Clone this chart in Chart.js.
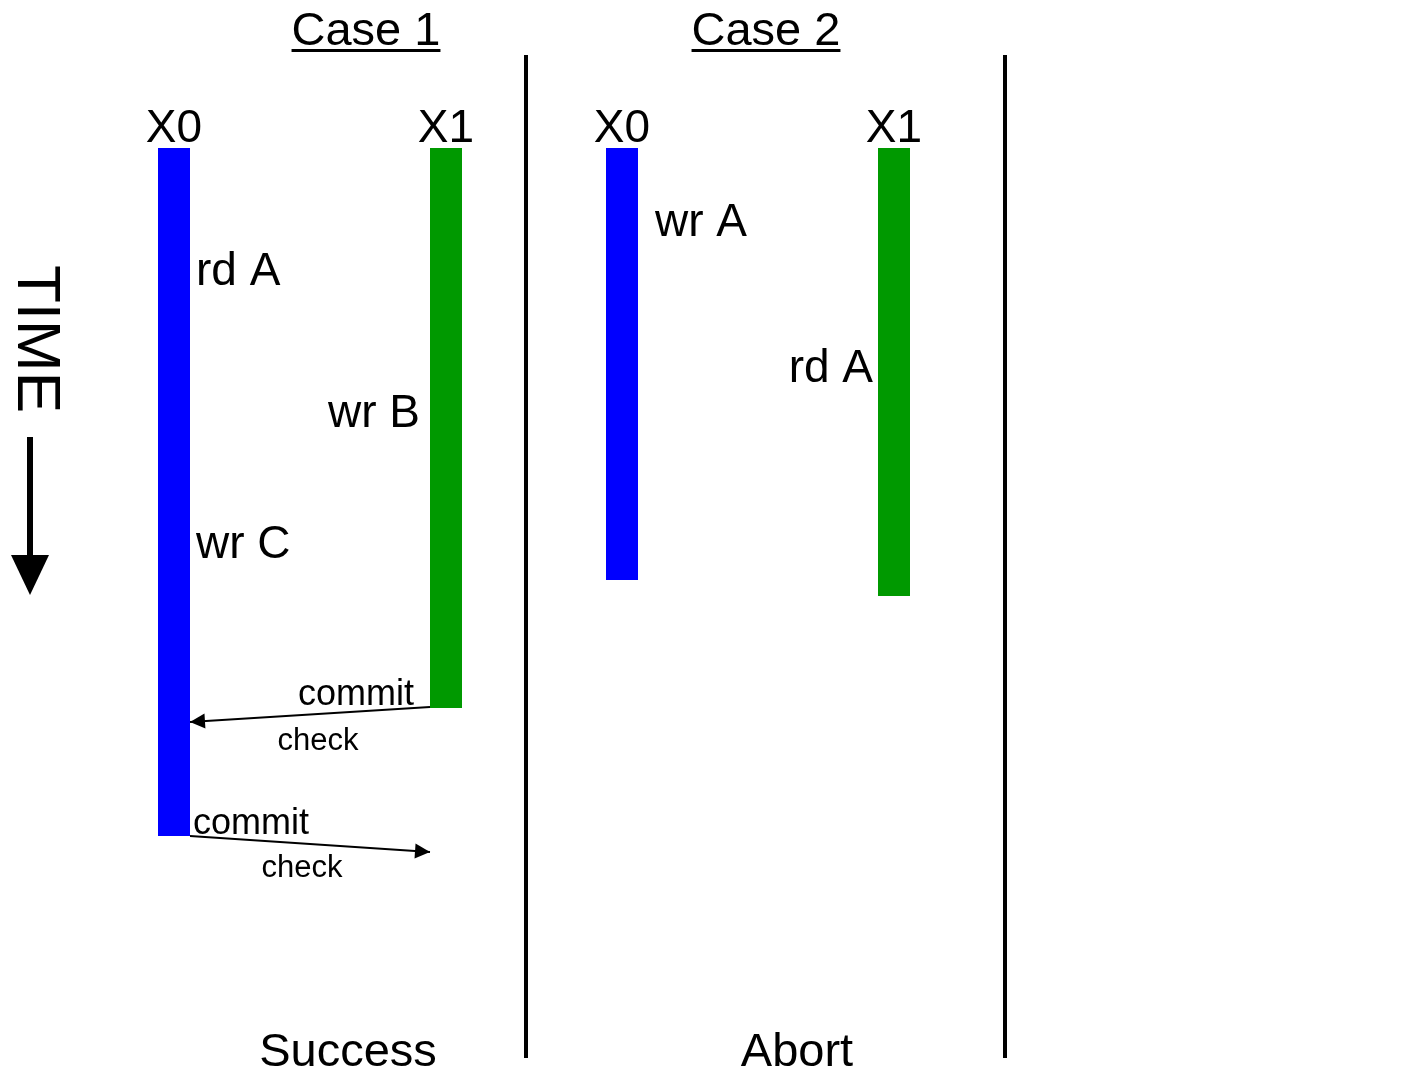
<!DOCTYPE html>
<html>
<head>
<meta charset="utf-8">
<script src="https://cdn.jsdelivr.net/npm/chart.js@4.4.0/dist/chart.umd.min.js"></script>
<style>
  html, body { margin: 0; padding: 0; background: #fff; }
  #wrap { width: 1425px; height: 1070px; }
</style>
</head>
<body>
<div id="wrap"><canvas id="diagram" width="1425" height="1070"></canvas></div>
<script>
// diagram units: x = horizontal position, y = time (grows downward)
const caseTitles = ["Case 1", "Case 2"];
const caseX = [366, 766];
const outcomes = ["Success", "Abort"];
const outcomeX = [348, 797];
const dividerX = [526, 1005];
const dividerStart = 55;
const dividerEnd = 1058;

const laneNames = ["X0", "X1", "X0", "X1"];
const laneX = [174, 446, 622, 894];
const laneStart = [148, 148, 148, 148];
const laneEnd = [836, 708, 580, 596];

const opLabels = ["rd A", "wr B", "wr C", "wr A", "rd A"];
const opX = [196, 420, 196, 655, 873];
const opY = [285, 427, 558, 236, 382];
const opSide = ["right", "left", "right", "right", "left"];

// commit check messages: from lane -> to lane
const msgFromX = [430, 190];
const msgFromY = [707, 836];
const msgToX = [190, 430];
const msgToY = [722, 852];
const msgTop = ["commit", "commit"];
const msgTopX = [298, 193];
const msgTopY = [705, 834];
const msgBottom = ["check", "check"];
const msgBottomX = [318, 302];
const msgBottomY = [750, 877];

const timeArrowX = 30;
const timeArrowStart = 437;
const timeArrowEnd = 595;

const laneColors = ["#0000ff", "#009900", "#0000ff", "#009900"];
const FONT = "'Liberation Sans', Arial, Helvetica, sans-serif";

const datasets = [];
laneX.forEach((x, i) => {
  datasets.push({
    data: [{ x: x, y: laneStart[i] }, { x: x, y: laneEnd[i] }],
    borderColor: laneColors[i],
    borderWidth: 32,
    borderCapStyle: "butt",
    showLine: true,
    pointRadius: 0
  });
});
dividerX.forEach(x => {
  datasets.push({
    data: [{ x: x, y: dividerStart }, { x: x, y: dividerEnd }],
    borderColor: "#000",
    borderWidth: 4,
    borderCapStyle: "butt",
    showLine: true,
    pointRadius: 0
  });
});
msgFromX.forEach((x, i) => {
  datasets.push({
    data: [{ x: x, y: msgFromY[i] }, { x: msgToX[i], y: msgToY[i] }],
    borderColor: "#000",
    borderWidth: 2,
    showLine: true,
    pointRadius: 0
  });
});
datasets.push({
  data: [{ x: timeArrowX, y: timeArrowStart }, { x: timeArrowX, y: timeArrowEnd - 36 }],
  borderColor: "#000",
  borderWidth: 6,
  borderCapStyle: "butt",
  showLine: true,
  pointRadius: 0
});

function arrowHead(ctx, x0, y0, x1, y1, len, half) {
  const a = Math.atan2(y1 - y0, x1 - x0);
  ctx.beginPath();
  ctx.moveTo(x1, y1);
  ctx.lineTo(x1 - len * Math.cos(a) + half * Math.sin(a), y1 - len * Math.sin(a) - half * Math.cos(a));
  ctx.lineTo(x1 - len * Math.cos(a) - half * Math.sin(a), y1 - len * Math.sin(a) + half * Math.cos(a));
  ctx.closePath();
  ctx.fill();
}

const labelsPlugin = {
  id: "labels",
  afterDatasetsDraw(chart) {
    const ctx = chart.ctx;
    const sx = chart.scales.x, sy = chart.scales.y;
    const px = v => sx.getPixelForValue(v);
    const py = v => sy.getPixelForValue(v);
    ctx.save();
    ctx.fillStyle = "#000";
    ctx.strokeStyle = "#000";
    ctx.textBaseline = "alphabetic";

    // case titles, underlined
    ctx.font = "47px " + FONT;
    ctx.textAlign = "center";
    caseTitles.forEach((t, i) => {
      ctx.fillText(t, px(caseX[i]), py(45));
      const w = ctx.measureText(t).width;
      ctx.fillRect(px(caseX[i]) - w / 2, py(49), w, 3);
    });

    // lane names
    ctx.font = "46px " + FONT;
    laneNames.forEach((t, i) => ctx.fillText(t, px(laneX[i]), py(142)));

    // operations
    opLabels.forEach((t, i) => {
      ctx.textAlign = opSide[i] === "right" ? "left" : "right";
      ctx.fillText(t, px(opX[i]), py(opY[i]));
    });

    // commit / check messages
    msgFromX.forEach((x, i) => {
      arrowHead(ctx, px(x), py(msgFromY[i]), px(msgToX[i]), py(msgToY[i]), 15, 7.5);
      ctx.textAlign = "left";
      ctx.font = "36px " + FONT;
      ctx.fillText(msgTop[i], px(msgTopX[i]), py(msgTopY[i]));
      ctx.textAlign = "center";
      ctx.font = "31px " + FONT;
      ctx.fillText(msgBottom[i], px(msgBottomX[i]), py(msgBottomY[i]));
    });

    // outcomes
    ctx.font = "47px " + FONT;
    ctx.textAlign = "center";
    outcomes.forEach((t, i) => ctx.fillText(t, px(outcomeX[i]), py(1066)));

    // TIME label and arrow
    ctx.save();
    ctx.translate(px(18), py(265));
    ctx.rotate(Math.PI / 2);
    ctx.font = "62px " + FONT;
    ctx.textAlign = "left";
    ctx.fillText("TIME", 0, 0);
    ctx.restore();
    arrowHead(ctx, px(timeArrowX), py(timeArrowStart), px(timeArrowX), py(timeArrowEnd), 40, 19);

    ctx.restore();
  }
};

new Chart(document.getElementById("diagram"), {
  type: "scatter",
  data: { datasets: datasets },
  options: {
    responsive: false,
    animation: false,
    layout: { padding: 0 },
    plugins: { legend: { display: false }, tooltip: { enabled: false } },
    scales: {
      x: { type: "linear", min: 0, max: 1425, display: false },
      y: { type: "linear", min: 0, max: 1070, reverse: true, display: false }
    }
  },
  plugins: [labelsPlugin]
});
</script>
</body>
</html>
